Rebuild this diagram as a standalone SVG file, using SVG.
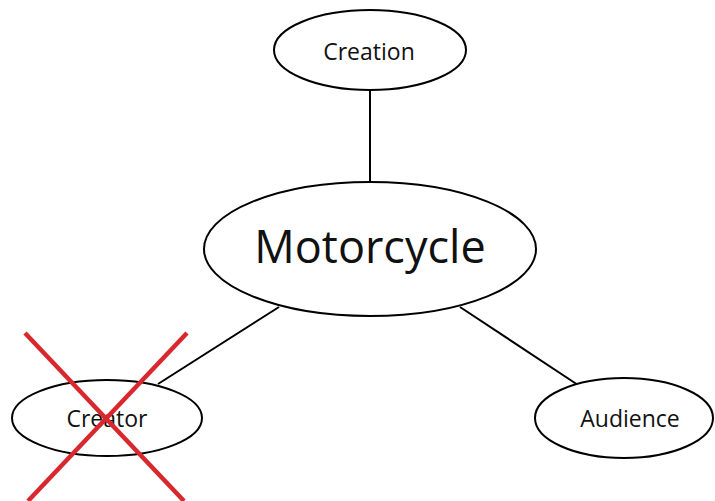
<svg xmlns="http://www.w3.org/2000/svg" width="715" height="501" viewBox="0 0 715 501">
<style>
.node ellipse{fill:#fff;stroke:#000;stroke-width:2}
.node text{font-family:"Open Sans","Noto Sans",sans-serif;fill:#111;text-anchor:middle}
.edge{stroke:#000;stroke-width:2;fill:none}
.cross{stroke:#d9272e;stroke-width:4.5}
</style>
<rect width="715" height="501" fill="#fff"/>
<g id="connectors">
<line class="edge" x1="370" y1="91" x2="370" y2="182"/>
<line class="edge" x1="279" y1="307" x2="158" y2="384"/>
<line class="edge" x1="460" y1="307" x2="578" y2="385"/>
</g>
<g id="creation" class="node">
<ellipse cx="370" cy="50" rx="96" ry="40"/>
<text x="369" y="60" font-size="23">Creation</text>
</g>
<g id="motorcycle" class="node">
<ellipse cx="370" cy="249" rx="166" ry="67"/>
<text x="370" y="263" font-size="45">Motorcycle</text>
</g>
<g id="creator" class="node">
<ellipse cx="107" cy="418" rx="95" ry="38"/>
<text x="107" y="427" font-size="23">Creator</text>
</g>
<g id="audience" class="node">
<ellipse cx="624" cy="418" rx="89" ry="40"/>
<text x="630" y="427" font-size="23">Audience</text>
</g>
<g id="cross">
<line class="cross" x1="25" y1="333" x2="184" y2="501"/>
<line class="cross" x1="187" y1="333" x2="28" y2="501"/>
</g>
</svg>
